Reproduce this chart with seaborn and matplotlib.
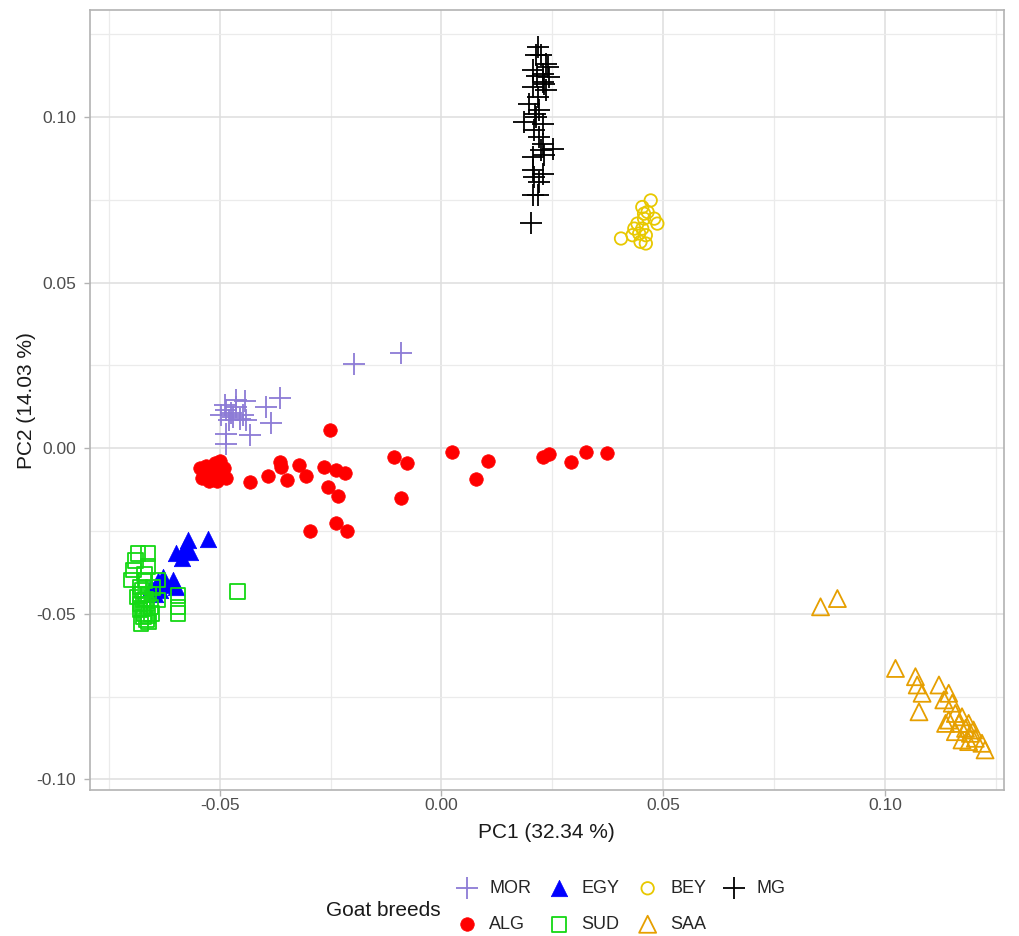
import matplotlib
matplotlib.use("Agg")
import matplotlib.pyplot as plt
import matplotlib.ticker as mticker
import seaborn as sns
import pandas as pd

# PCA coordinates, one pair of lists per breed
mor_x = [-0.0091, -0.0196, -0.0363, -0.0395, -0.0384, -0.0444, -0.0432, -0.0485, -0.0485, -0.0496,
         -0.0485, -0.0463, -0.0455, -0.0478, -0.0448, -0.0440, -0.0489, -0.0463, -0.0470, -0.0475]
mor_y = [0.0288, 0.0253, 0.0150, 0.0125, 0.0075, 0.0142, 0.0039, 0.0014, 0.0044, 0.0100,
         0.0115, 0.0125, 0.0089, 0.0084, 0.0100, 0.0084, 0.0130, 0.0145, 0.0095, 0.0105]

alg_x = [-0.0545, -0.0540, -0.0530, -0.0520, -0.0510, -0.0500, -0.0495, -0.0490, -0.0505, -0.0525,
         -0.0485, -0.0515, -0.0500, -0.0535, -0.0432, -0.0391, -0.0365, -0.0361, -0.0348, -0.0321,
         -0.0305, -0.0252, -0.0264, -0.0237, -0.0218, -0.0256, -0.0234, -0.0296, -0.0237, -0.0212,
         -0.0106, -0.0078, -0.0091, 0.0023, 0.0077, 0.0106, 0.0228, 0.0243, 0.0292, 0.0326, 0.0373]
alg_y = [-0.0060, -0.0090, -0.0055, -0.0085, -0.0045, -0.0040, -0.0075, -0.0060, -0.0100, -0.0100,
         -0.0090, -0.0070, -0.0065, -0.0075, -0.0102, -0.0084, -0.0041, -0.0056, -0.0097, -0.0051,
         -0.0084, 0.0054, -0.0056, -0.0066, -0.0076, -0.0117, -0.0144, -0.0250, -0.0227, -0.0250,
         -0.0026, -0.0044, -0.0150, -0.0013, -0.0092, -0.0038, -0.0026, -0.0019, -0.0043, -0.0013, -0.0016]

egy_x = [-0.0526, -0.0571, -0.0579, -0.0568, -0.0598, -0.0586, -0.0628, -0.0605, -0.0620, -0.0635,
         -0.0598, -0.0640, -0.0655, -0.0645]
egy_y = [-0.0273, -0.0278, -0.0298, -0.0313, -0.0318, -0.0333, -0.0388, -0.0398, -0.0413, -0.0428,
         -0.0419, -0.0400, -0.0420, -0.0440]

sud_x = [-0.0684, -0.0695, -0.0699, -0.0662, -0.0662, -0.0680, -0.0673, -0.0680, -0.0665, -0.0654,
         -0.0639, -0.0639, -0.0594, -0.0594, -0.0594, -0.0460, -0.0677, -0.0670, -0.0668, -0.0675,
         -0.0660, -0.0685, -0.0665, -0.0670, -0.0655, -0.0690, -0.0650, -0.0672, -0.0660, -0.0680,
         -0.0667, -0.0674, -0.0662, -0.0678]
sud_y = [-0.0318, -0.0368, -0.0398, -0.0318, -0.0358, -0.0419, -0.0459, -0.0489, -0.0519, -0.0499,
         -0.0398, -0.0459, -0.0444, -0.0479, -0.0499, -0.0432, -0.0529, -0.0380, -0.0400, -0.0430,
         -0.0440, -0.0450, -0.0470, -0.0500, -0.0480, -0.0340, -0.0420, -0.0510, -0.0525, -0.0470,
         -0.0455, -0.0485, -0.0505, -0.0440]

bey_x = [0.0472, 0.0453, 0.0465, 0.0457, 0.0480, 0.0487, 0.0442, 0.0453, 0.0435, 0.0446,
         0.0461, 0.0431, 0.0449, 0.0405, 0.0461, 0.0457]
bey_y = [0.0748, 0.0728, 0.0713, 0.0693, 0.0693, 0.0678, 0.0678, 0.0663, 0.0663, 0.0648,
         0.0643, 0.0643, 0.0623, 0.0633, 0.0618, 0.0708]

saa_x = [0.0855, 0.0893, 0.1024, 0.1069, 0.1073, 0.1084, 0.1077, 0.1122, 0.1133, 0.1144,
         0.1152, 0.1144, 0.1159, 0.1167, 0.1174, 0.1182, 0.1189, 0.1193, 0.1200, 0.1204,
         0.1219, 0.1226, 0.1159, 0.1174, 0.1189, 0.1137]
saa_y = [-0.0479, -0.0454, -0.0665, -0.0690, -0.0715, -0.0740, -0.0796, -0.0715, -0.0760, -0.0740,
         -0.0770, -0.0821, -0.0801, -0.0831, -0.0811, -0.0846, -0.0831, -0.0861, -0.0851, -0.0876,
         -0.0891, -0.0911, -0.0856, -0.0881, -0.0886, -0.0831]

mg_x = [0.0202, 0.0206, 0.0217, 0.0209, 0.0228, 0.0206, 0.0225, 0.0251, 0.0228, 0.0187,
        0.0213, 0.0198, 0.0221, 0.0217, 0.0206, 0.0236, 0.0243, 0.0228, 0.0206, 0.0213,
        0.0217, 0.0225, 0.0236, 0.0232, 0.0209, 0.0228, 0.0206, 0.0232, 0.0221, 0.0230,
        0.0215, 0.0240, 0.0220, 0.0210]
mg_y = [0.0680, 0.0763, 0.0763, 0.0819, 0.0829, 0.0879, 0.0899, 0.0904, 0.0919, 0.0985,
        0.1000, 0.1040, 0.1020, 0.1060, 0.1090, 0.1080, 0.1120, 0.1131, 0.1141, 0.1186,
        0.1211, 0.1186, 0.1161, 0.1100, 0.0960, 0.0980, 0.0839, 0.0884, 0.0804, 0.1105,
        0.1125, 0.1150, 0.0940, 0.1010]

breeds = ["MOR", "ALG", "EGY", "SUD", "BEY", "SAA", "MG"]
xs = [mor_x, alg_x, egy_x, sud_x, bey_x, saa_x, mg_x]
ys = [mor_y, alg_y, egy_y, sud_y, bey_y, saa_y, mg_y]

colors = {"MOR": "#8C7BD6", "ALG": "#FF0000", "EGY": "#0000FF", "SUD": "#14D814",
          "BEY": "#E8C800", "SAA": "#E69F00", "MG": "#000000"}
markers = {"MOR": "+", "ALG": "o", "EGY": "^", "SUD": "s", "BEY": "o", "SAA": "^", "MG": "+"}
sizes = {"MOR": 230, "ALG": 95, "EGY": 140, "SUD": 110, "BEY": 80, "SAA": 150, "MG": 260}
filled = {"MOR": True, "ALG": True, "EGY": True, "SUD": False, "BEY": False, "SAA": False, "MG": True}

df = pd.concat([pd.DataFrame({"PC1": x, "PC2": y, "breed": b}) for b, x, y in zip(breeds, xs, ys)],
               ignore_index=True)

sns.set_theme(style="whitegrid")
plt.rcParams["font.family"] = ["Liberation Sans", "DejaVu Sans"]
plt.rcParams["axes.unicode_minus"] = False

fig = plt.figure(figsize=(10.2, 9.36), dpi=100)
ax = fig.add_axes([0.088, 0.156, 0.896, 0.833])

for b in breeds:
    sub = df[df["breed"] == b]
    if markers[b] == "+":
        sns.scatterplot(data=sub, x="PC1", y="PC2", ax=ax, marker="+", s=sizes[b],
                        color=colors[b], linewidth=1.3, label=b, zorder=3)
    elif filled[b]:
        sns.scatterplot(data=sub, x="PC1", y="PC2", ax=ax, marker=markers[b], s=sizes[b],
                        color=colors[b], edgecolor=colors[b], linewidth=0.5, label=b, zorder=3)
    else:
        sns.scatterplot(data=sub, x="PC1", y="PC2", ax=ax, marker=markers[b], s=sizes[b],
                        color=colors[b], facecolor="none", edgecolor=colors[b],
                        linewidth=1.3, label=b, zorder=3)

ax.set_xlim(-0.0793, 0.1268)
ax.set_ylim(-0.1032, 0.1322)
ax.xaxis.set_major_locator(mticker.MultipleLocator(0.05))
ax.yaxis.set_major_locator(mticker.MultipleLocator(0.05))
ax.xaxis.set_minor_locator(mticker.MultipleLocator(0.025))
ax.yaxis.set_minor_locator(mticker.MultipleLocator(0.025))
ax.xaxis.set_major_formatter(mticker.FormatStrFormatter("%.2f"))
ax.yaxis.set_major_formatter(mticker.FormatStrFormatter("%.2f"))

ax.set_facecolor("white")
ax.grid(which="major", color="#DEDEDE", linewidth=1.1)
ax.grid(which="minor", color="#EBEBEB", linewidth=0.9)
ax.set_axisbelow(True)
for sp in ax.spines.values():
    sp.set_color("#B3B3B3")
    sp.set_linewidth(1.2)
ax.tick_params(which="major", length=4, width=1, color="#B3B3B3", labelsize=12.5,
               labelcolor="#4D4D4D", bottom=True, left=True)
ax.tick_params(axis="y", pad=6)
ax.tick_params(axis="x", pad=2)
ax.tick_params(which="minor", length=0)

ax.set_xlabel("PC1 (32.34 %)", fontsize=15, color="#1A1A1A", labelpad=7)
ax.set_ylabel("PC2 (14.03 %)", fontsize=15, color="#1A1A1A", labelpad=0)

handles, labels = ax.get_legend_handles_labels()
if ax.get_legend():
    ax.get_legend().remove()
fig.legend(handles, labels, loc="center left", bbox_to_anchor=(0.445, 0.0315), ncol=4,
           frameon=False, fontsize=13, handlelength=1.4, handletextpad=0.55,
           columnspacing=0.85, labelspacing=1.05, borderaxespad=0, borderpad=0)
fig.text(0.432, 0.027, "Goat breeds", ha="right", va="center", fontsize=15, color="#1A1A1A")

fig.savefig("out.png", dpi=100, facecolor="white")
